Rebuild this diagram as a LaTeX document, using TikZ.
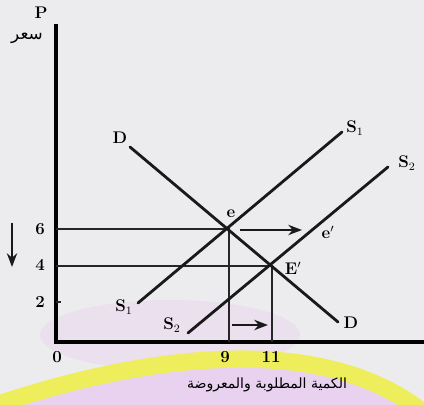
\documentclass[tikz,border=0pt]{standalone}
\usepackage{fontspec}
\newfontfamily\arabicfont[Script=Arabic]{DejaVu Sans}
\TeXXeTstate=1
\usetikzlibrary{arrows.meta,positioning}
\definecolor{paper}{RGB}{236,236,238}
\definecolor{lilac}{RGB}{232,204,240}
\definecolor{hilite}{RGB}{238,238,92}
\tikzset{
  axisline/.style={line width=2.3pt,black},
  curveline/.style={line width=2pt,line cap=round,black!90},
  guideline/.style={line width=1.3pt,black!85},
  shiftarr/.style={->,>=Stealth,line width=1.5pt,black!90},
  lbl/.style={font=\large\bfseries,inner sep=1pt},
  arlbl/.style={font=\arabicfont,inner sep=1pt}
}
\begin{document}
\begin{tikzpicture}[x=0.25mm,y=-0.25mm]
  \useasboundingbox (0,0) rectangle (424,405);
  \begin{scope}
    \clip (0,0) rectangle (424,405);
    \fill[paper] (0,0) rectangle (424,405);
    \fill[lilac,opacity=0.35] (170,335) ellipse [x radius=130,y radius=35];
    \fill[lilac,opacity=0.8] (-10,407) .. controls (120,362) and (320,322) .. (430,418) -- (430,420) -- (-10,420) -- cycle;
    \draw[hilite,line width=4.3mm] (-10,407) .. controls (120,362) and (320,322) .. (430,418);
  \end{scope}

  \coordinate (O) at (56,342);
  \coordinate (ytop) at (56,24);
  \coordinate (xend) at (424,342);
  \draw[axisline] (ytop) -- (O) -- (xend);

  \node[lbl] (Plbl) at (41,13) {P};
  \node[arlbl,font=\arabicfont\large] (price) at (27,38) {\beginR سعر\endR};
  \node[lbl] (t6) at (40,229) {6};
  \node[lbl] (t4) at (40,265) {4};
  \node[lbl] (t2) at (40,302) {2};
  \node[lbl] (t0) at (57,357) {0};
  \node[lbl] (t9) at (225,357) {9};
  \node[lbl] (t11) at (271,357) {11};
  \draw[guideline] (t2.east -| O) -- ++(5,0);

  \coordinate (Da) at (130,147);
  \coordinate (Db) at (338,322);
  \coordinate (S1a) at (138,303);
  \coordinate (S1b) at (342,132);
  \coordinate (S2a) at (188,333);
  \coordinate (S2b) at (388,167);
  \coordinate (e) at (229,229);
  \coordinate (Ep) at (272,266);

  \draw[guideline] (e -| O) -- (e) -- (e |- O);
  \draw[guideline] (Ep -| O) -- (Ep) -- (Ep |- O);

  \draw[curveline] (Da) -- (Db);
  \draw[curveline] (S1a) -- (S1b);
  \draw[curveline] (S2a) -- (S2b);

  \node[lbl] (Dtop) at (120,138) {D};
  \node[lbl] (Dbot) at (351,323) {D};
  \node[lbl] (S1top) at (355,128) {S$_1$};
  \node[lbl] (S2top) at (407,163) {S$_2$};
  \node[lbl] (S1bot) at (124,307) {S$_1$};
  \node[lbl] (S2bot) at (172,325) {S$_2$};
  \node[lbl] (elbl) at (231,214) {e};
  \node[lbl] (Eplbl) at (293,268) {E$'$};
  \node[lbl] (eplbl) at (328,232) {e$'$};

  \coordinate (eq) at (302,230);
  \draw[shiftarr] (e) ++(11,1) -- (eq);
  \coordinate (qa) at (232,325);
  \coordinate (qb) at (268,325);
  \draw[shiftarr] (qa) -- (qb);
  \coordinate (pa) at (12,223);
  \coordinate (pb) at (12,267);
  \draw[shiftarr] (pa) -- (pb);

  \node[arlbl] (qty) at (267,385) {\beginR الكمية المطلوبة والمعروضة\endR};
\end{tikzpicture}
\end{document}
